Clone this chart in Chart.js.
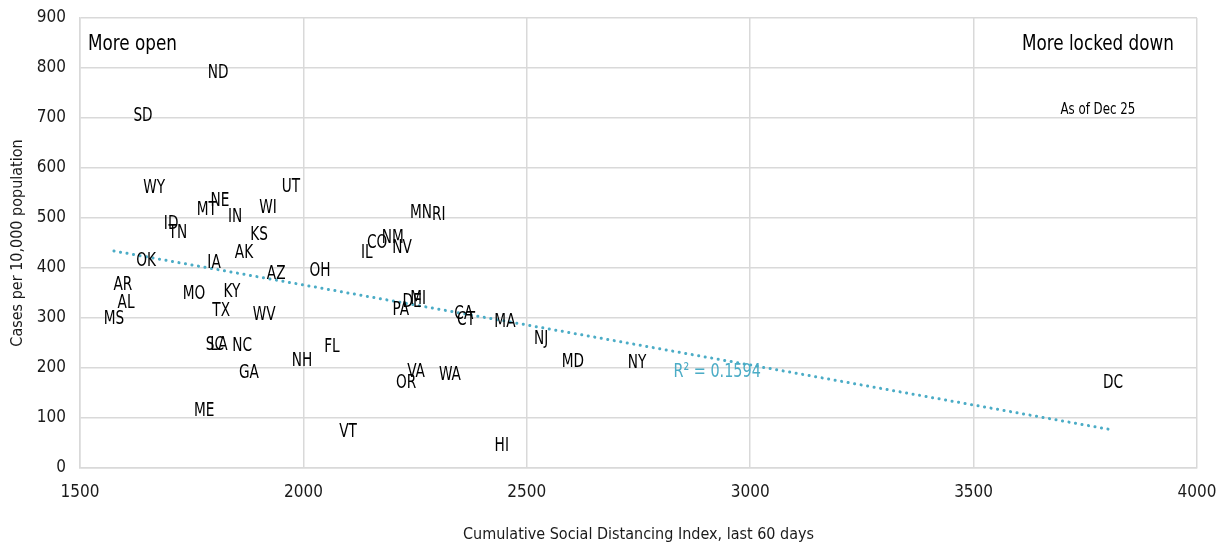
<!DOCTYPE html>
<html>
<head>
<meta charset="utf-8">
<script src="https://cdn.jsdelivr.net/npm/chart.js@4/dist/chart.umd.min.js"></script>
<style>
  html, body { margin: 0; padding: 0; background: #fff; }
  #wrap { width: 1225px; height: 550px; }
</style>
</head>
<body>
<div id="wrap"><canvas id="ScatterChart"></canvas></div>
<script>
const FONT = "'Liberation Sans Narrow', 'DejaVu Sans Condensed', 'Noto Sans', sans-serif";

// state labels, social distancing index (x), cases per 10,000 (y)
const states = ['ND', 'SD', 'WY', 'UT', 'NE', 'MT', 'IN', 'WI', 'ID', 'TN',
                'KS', 'AK', 'OK', 'IA', 'AZ', 'OH', 'AR', 'AL', 'MS', 'MO',
                'KY', 'TX', 'WV', 'SC', 'LA', 'NC', 'GA', 'NH', 'FL', 'ME',
                'VT', 'IL', 'CO', 'NM', 'NV', 'MN', 'RI', 'PA', 'DE', 'MI',
                'CA', 'CT', 'MA', 'NJ', 'VA', 'OR', 'WA', 'HI', 'MD', 'NY', 'DC'];
const distIndex = [1809, 1641, 1666, 1972, 1813, 1784, 1847, 1921, 1704, 1719,
                   1901, 1867, 1648, 1800, 1939, 2037, 1596, 1603, 1576, 1755,
                   1840, 1816, 1912, 1802, 1811, 1863, 1878, 1997, 2064, 1778,
                   2100, 2142, 2165, 2200, 2221, 2263, 2303, 2218, 2243, 2257,
                   2359, 2364, 2451, 2532, 2252, 2230, 2328, 2444, 2603, 2747, 3812];
const cases = [790, 704, 560, 562, 534, 516, 502, 520, 488, 470,
               466, 430, 414, 410, 388, 394, 366, 330, 298, 348,
               352, 314, 306, 246, 246, 244, 190, 214, 242, 114,
               72, 430, 450, 460, 440, 510, 506, 316, 332, 338,
               308, 296, 292, 258, 192, 170, 186, 44, 212, 210, 170];

// trend line end points
const trendX = [1576, 3812];
const trendY = [434, 76];
const r2Text = 'R² = 0.1594';

const xTicks = [1500, 2000, 2500, 3000, 3500, 4000];
const yTicks = [0, 100, 200, 300, 400, 500, 600, 700, 800, 900];

const pts = states.map((s, i) => ({ x: distIndex[i], y: cases[i] }));
const trendPts = trendX.map((v, i) => ({ x: v, y: trendY[i] }));

// narrow text: draw a bigger font squeezed sideways
function narrowText(ctx, text, x, y, size, align, sx) {
    ctx.save();
    ctx.translate(x, y);
    ctx.scale(sx, 1);
    ctx.font = size + 'px ' + FONT;
    ctx.textAlign = align;
    ctx.textBaseline = 'middle';
    ctx.fillText(text, 0, 0);
    ctx.restore();
}

const labelPlugin = {
    id: 'stateLabels',
    afterDatasetsDraw(chart) {
        const ctx = chart.ctx;
        const xs = chart.scales.x;
        const ys = chart.scales.y;
        const area = chart.chartArea;
        const meta = chart.getDatasetMeta(1);
        ctx.save();
        ctx.fillStyle = '#000';
        meta.data.forEach((p, i) => {
            narrowText(ctx, states[i], p.x, p.y, 19, 'center', 0.8);
        });

        // R squared
        ctx.fillStyle = '#4bacc6';
        narrowText(ctx, r2Text, xs.getPixelForValue(2926), ys.getPixelForValue(192), 20, 'center', 0.8);

        // corner notes
        ctx.fillStyle = '#000';
        narrowText(ctx, 'More open', area.left + 8, ys.getPixelForValue(848), 22, 'left', 0.85);
        narrowText(ctx, 'More locked down', area.right - 23, ys.getPixelForValue(848), 22, 'right', 0.85);
        narrowText(ctx, 'As of Dec 25', xs.getPixelForValue(3778), ys.getPixelForValue(716), 16, 'center', 0.82);
        ctx.restore();
    }
};

const config = {
    type: 'scatter',
    data: {
        datasets: [{
            type: 'line',
            label: 'Trend',
            data: trendPts,
            borderColor: '#4bacc6',
            borderWidth: 3,
            borderDash: [0.1, 6.5],
            borderCapStyle: 'round',
            pointRadius: 0,
            fill: false
        }, {
            label: 'States',
            data: pts,
            pointRadius: 0,
            pointHoverRadius: 0,
            backgroundColor: 'rgba(0,0,0,0)',
            borderColor: 'rgba(0,0,0,0)'
        }]
    },
    options: {
        responsive: true,
        maintainAspectRatio: false,
        animation: false,
        layout: { padding: { top: 18, right: 28, left: 0, bottom: 0 } },
        plugins: {
            legend: { display: false },
            tooltip: { enabled: false }
        },
        scales: {
            x: {
                type: 'linear',
                min: 1500,
                max: 4000,
                afterBuildTicks: (s) => { s.ticks = xTicks.map(v => ({ value: v })); },
                afterFit: (s) => {
                    s.height = 82;
                    s.paddingLeft = 0;
                    s.paddingRight = 0;
                },
                grid: { color: '#d9d9d9', lineWidth: 1.5, drawTicks: false },
                border: { color: '#d9d9d9', width: 1.5 },
                ticks: {
                    padding: 14,
                    color: '#1a1a1a',
                    font: { family: FONT, size: 17 },
                    callback: (v) => String(v)
                },
                title: {
                    display: true,
                    text: 'Cumulative Social Distancing Index, last 60 days',
                    color: '#1a1a1a',
                    font: { family: FONT, size: 16 },
                    padding: { top: 4, bottom: 6 }
                }
            },
            y: {
                min: 0,
                max: 900,
                afterBuildTicks: (s) => { s.ticks = yTicks.map(v => ({ value: v })); },
                afterFit: (s) => {
                    s.width = 80;
                    s.paddingTop = 0;
                    s.paddingBottom = 0;
                },
                grid: { color: '#d9d9d9', lineWidth: 1.5, drawTicks: false },
                border: { color: '#d9d9d9', width: 1.5 },
                ticks: {
                    padding: 14,
                    color: '#1a1a1a',
                    font: { family: FONT, size: 17 },
                    callback: (v) => String(v)
                },
                title: {
                    display: true,
                    text: 'Cases per 10,000 population',
                    color: '#1a1a1a',
                    font: { family: FONT, size: 16 },
                    padding: { top: 8, bottom: 4 }
                }
            }
        }
    },
    plugins: [labelPlugin]
};

new Chart(document.getElementById('ScatterChart'), config);
</script>
</body>
</html>
